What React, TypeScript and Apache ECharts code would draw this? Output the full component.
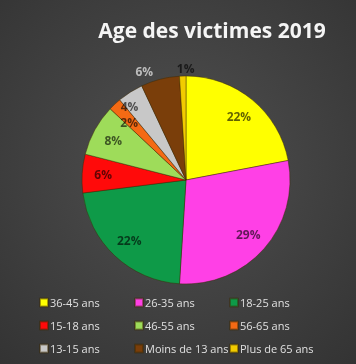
import React, { useEffect, useRef } from "react";
import * as echarts from "echarts";

const title = "Age des victimes 2019";
const categories = [
  "36-45 ans",
  "26-35 ans",
  "18-25 ans",
  "15-18 ans",
  "46-55 ans",
  "56-65 ans",
  "13-15 ans",
  "Moins de 13 ans",
  "Plus de 65 ans",
];
const values = [22, 29, 22, 6, 8, 2, 4, 6, 1];
const colors = [
  "#FFFF00",
  "#FF40E6",
  "#0E9A48",
  "#FF0A0A",
  "#9EDC5A",
  "#F46A14",
  "#C8C8C8",
  "#7A3E0A",
  "#F2CC00",
];
const outsideLabels = ["Moins de 13 ans", "Plus de 65 ans"];
const outsideColors: Record<string, string> = {
  "Moins de 13 ans": "#BDBDBD",
  "Plus de 65 ans": "#1a1a1a",
};

export default function App() {
  const ref = useRef<HTMLDivElement>(null);
  useEffect(() => {
    if (!ref.current) return;
    const chart = echarts.init(ref.current, undefined, { renderer: "svg" });
    const center = [186, 180];
    const mainData = categories.map((name, i) => ({
      name,
      value: values[i],
      itemStyle: { color: colors[i] },
    }));
    const labelData = categories.map((name, i) => {
      const out = outsideLabels.includes(name);
      return {
        name,
        value: values[i],
        label: out
          ? {
              position: "outside",
              color: outsideColors[name],
              distanceToLabelLine: name === "Plus de 65 ans" ? -12 : 5,
            }
          : { position: "inside" },
        labelLine: { show: false, length: 8, length2: 0 },
      };
    });
    // small nudges so that the thin slices' labels sit as in the reference
    const nudges: Record<string, { dx?: number; dy?: number }> = {
      "13-15 ans": { dx: -12, dy: -3 },
      "56-65 ans": { dy: 3 },
    };
    chart.setOption({
      animation: false,
      backgroundColor: {
        type: "radial",
        x: 0.5,
        y: 0.45,
        r: 0.75,
        colorStops: [
          { offset: 0, color: "#505050" },
          { offset: 1, color: "#333333" },
        ],
      },
      title: {
        text: title,
        left: 207,
        top: 14,
        textAlign: "center",
        textStyle: {
          color: "#F5F5F5",
          fontFamily: "Open Sans",
          fontWeight: "bold",
          fontSize: 21,
        },
      },
      legend: {
        data: categories,
        left: 34,
        top: 286,
        width: 310,
        orient: "horizontal",
        itemGap: 0,
        itemWidth: 8,
        itemHeight: 8,
        icon: "rect",
        selectedMode: false,
        textStyle: {
          color: "#E0E0E0",
          fontFamily: "Open Sans",
          fontSize: 11,
          width: 84,
          lineHeight: 23,
          padding: [0, 0, 0, -3],
        },
      },
      series: [
        {
          type: "pie",
          radius: [0, 104],
          center,
          startAngle: 90,
          clockwise: true,
          silent: true,
          label: { show: false },
          labelLine: { show: false },
          itemStyle: { borderColor: "rgba(60,40,0,0.45)", borderWidth: 1 },
          data: mainData,
        },
        {
          type: "pie",
          radius: [56, 104],
          center,
          startAngle: 90,
          clockwise: true,
          silent: true,
          avoidLabelOverlap: false,
          legendHoverLink: false,
          itemStyle: { color: "rgba(0,0,0,0)", borderWidth: 0 },
          label: {
            show: true,
            formatter: "{c}%",
            color: "rgba(0,0,0,0.62)",
            fontFamily: "Open Sans",
            fontWeight: "bold",
            fontSize: 12,
          },
          labelLayout: (params: any) =>
            nudges[categories[params.dataIndex]] || {},
          data: labelData,
        },
      ],
    });
    return () => chart.dispose();
  }, []);
  return (
    <div
      ref={ref}
      style={{ position: "fixed", left: 0, top: 0, width: 356, height: 364 }}
    />
  );
}
